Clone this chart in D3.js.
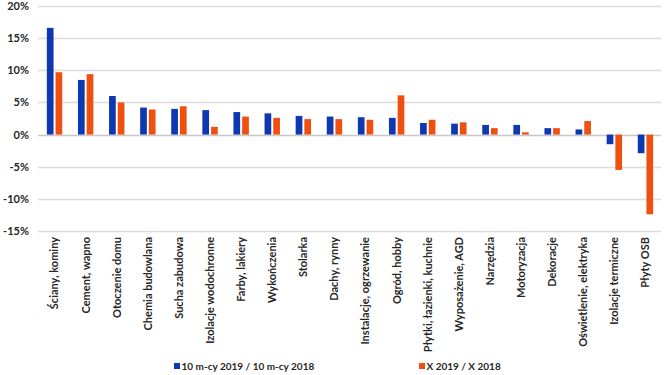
<!DOCTYPE html>
<html>
<head>
<meta charset="utf-8">
<script src="https://cdn.jsdelivr.net/npm/d3@7"></script>
<style>
  body { margin: 0; background: #fff; }
  text { font-family: Lato, "Open Sans", sans-serif; fill: #262626; }
</style>
</head>
<body>
<svg width="664" height="375"></svg>
<script>
(function (d3) {
    'use strict';

    const categories = ['Ściany, kominy', 'Cement, wapno', 'Otoczenie domu', 'Chemia budowlana',
        'Sucha zabudowa', 'Izolacje wodochronne', 'Farby, lakiery', 'Wykończenia', 'Stolarka',
        'Dachy, rynny', 'Instalacje, ogrzewanie', 'Ogród, hobby', 'Płytki, łazienki, kuchnie',
        'Wyposażenie, AGD', 'Narzędzia', 'Motoryzacja', 'Dekoracje', 'Oświetlenie, elektryka',
        'Izolacje termiczne', 'Płyty OSB'];
    const seriesNames = ['10 m-cy 2019 / 10 m-cy 2018', 'X 2019 / X 2018'];
    const tenMonths = [16.6, 8.5, 6.0, 4.2, 4.0, 3.8, 3.5, 3.3, 2.9, 2.8,
        2.7, 2.6, 1.8, 1.7, 1.5, 1.5, 1.0, 0.8, -1.5, -2.9];
    const october = [9.7, 9.4, 5.0, 3.9, 4.4, 1.2, 2.8, 2.6, 2.4, 2.4,
        2.3, 6.1, 2.3, 1.9, 1.0, 0.35, 1.0, 2.1, -5.5, -12.4];
    const yTicks = [-15, -10, -5, 0, 5, 10, 15, 20];
    const colors = ['#0d38b1', '#f0500f'];

    const svg = d3.select('svg');
    const left = 39, right = 661;

    const data = categories.map((c, i) => ({cat: c, values: [tenMonths[i], october[i]]}));

    const x0 = d3.scaleBand()
        .domain(categories)
        .range([left, right])
        .paddingInner(0.505)
        .paddingOuter(0.2525);

    const x1 = d3.scaleBand()
        .domain([0, 1])
        .range([0, x0.bandwidth()])
        .paddingInner(0.23);

    const y = d3.scaleLinear()
        .domain([-15, 20])
        .range([231, 6]);

    // grid
    svg.append('g')
        .selectAll('line').data(yTicks)
        .enter().append('line')
        .attr('x1', left - 1)
        .attr('x2', right)
        .attr('y1', d => Math.round(y(d)) + 0.5)
        .attr('y2', d => Math.round(y(d)) + 0.5)
        .attr('stroke', d => d === 0 ? '#c8c8c8' : '#dcdcdc')
        .attr('stroke-width', 1.3);

    // y axis labels
    const yAxis = d3.axisLeft(y)
        .tickValues(yTicks)
        .tickFormat(d => d + '%')
        .tickSize(0)
        .tickPadding(0);
    const ya = svg.append('g')
        .attr('transform', 'translate(29,0)')
        .call(yAxis);
    ya.select('.domain').remove();
    ya.selectAll('text')
        .attr('font-size', 11)
        .attr('font-weight', 700)
        .attr('font-family', 'Lato, sans-serif')
        .attr('fill', '#262626');

    // bars
    const groups = svg.append('g')
        .selectAll('g').data(data)
        .enter().append('g')
        .attr('transform', d => `translate(${x0(d.cat)},0)`);

    groups.selectAll('rect')
        .data(d => d.values.map((v, k) => ({k: k, v: v})))
        .enter().append('rect')
        .attr('x', d => x1(d.k))
        .attr('width', x1.bandwidth())
        .attr('y', d => y(Math.max(0, d.v)))
        .attr('height', d => Math.abs(y(d.v) - y(0)))
        .attr('fill', d => colors[d.k]);

    // category labels (rotated)
    const xAxis = d3.axisBottom(x0).tickSize(0).tickPadding(0);
    const xa = svg.append('g')
        .attr('transform', 'translate(0,237)')
        .call(xAxis);
    xa.select('.domain').remove();
    xa.selectAll('text')
        .attr('font-size', 11)
        .attr('font-weight', 700)
        .attr('font-family', 'Lato, sans-serif')
        .attr('fill', '#262626')
        .attr('text-anchor', 'end')
        .attr('dy', '0.35em')
        .attr('transform', 'rotate(-90)')
        .attr('x', 0)
        .attr('y', 0);

    // legend
    const legendX = [174, 419];
    const legend = svg.append('g')
        .selectAll('g').data(seriesNames)
        .enter().append('g')
        .attr('transform', (d, i) => `translate(${legendX[i]},366)`);
    legend.append('rect')
        .attr('x', 0)
        .attr('y', -3)
        .attr('width', 6)
        .attr('height', 6)
        .attr('fill', (d, i) => colors[i]);
    legend.append('text')
        .attr('x', 7.5)
        .attr('dy', '0.35em')
        .attr('font-size', 10)
        .attr('font-weight', 700)
        .text(d => d);
}(d3));
</script>
</body>
</html>
